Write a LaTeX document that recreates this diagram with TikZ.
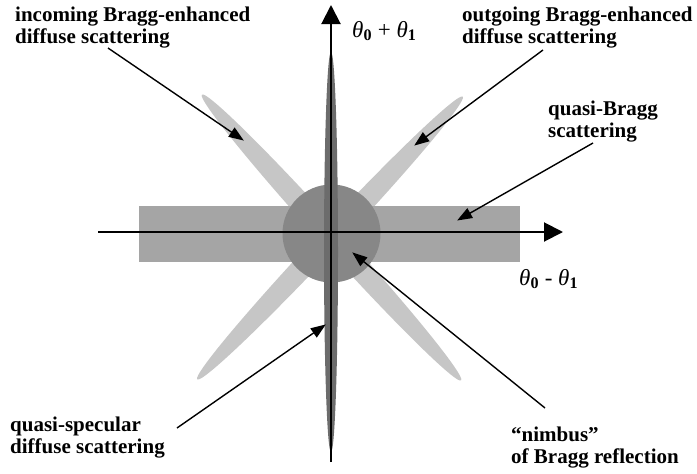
\documentclass[tikz,border=0pt]{standalone}
\usepackage{fontspec}
\setmainfont{Liberation Serif}
\usetikzlibrary{arrows.meta}
\definecolor{ellgray}{RGB}{198,198,198}
\definecolor{rectgray}{RGB}{165,165,165}
\definecolor{circgray}{RGB}{135,135,135}
\definecolor{spikegray}{RGB}{108,108,108}
\newcommand{\thsub}[1]{\textit{θ}\textsubscript{\upshape\bfseries #1}}
\begin{document}
\begin{tikzpicture}[x=1pt,y=-1pt,
  lbl/.style={font=\bfseries\fontsize{21}{21.5}\selectfont, align=left, inner sep=0pt, anchor=base west},
  axlbl/.style={font=\fontsize{23}{26}\selectfont, inner sep=0pt, anchor=base west},
  ptr/.style={line width=1.4pt, -{Triangle[length=15pt,width=11pt]}, shorten >=-1pt},
  axis/.style={line width=2pt, -{Triangle[length=19pt,width=19pt]}}]
\useasboundingbox (0,0) rectangle (697,474);
% diffuse streaks
\fill[ellgray, rotate around={46.8:(330,238)}] (330,238) ellipse [x radius=194pt, y radius=11pt];
\fill[ellgray, rotate around={-47.8:(331.5,237.5)}] (331.5,237.5) ellipse [x radius=193pt, y radius=11pt];
% quasi-Bragg band
\fill[rectgray] (139,206) rectangle (520,262);
% nimbus
\fill[circgray] (331.5,233.5) circle [radius=49pt];
% quasi-specular spike
\fill[spikegray] (331,252) ellipse [x radius=7pt, y radius=200pt];
% axes
\coordinate (vb) at (331,462);
\coordinate (vt) at (331,5);
\coordinate (hl) at (98,232);
\coordinate (hr) at (563,232);
\draw[axis] (vb) -- (vt);
\draw[axis] (hl) -- (hr);
% axis labels
\node[axlbl] (lp) at (352,37) {\thsub{0} + \thsub{1}};
\node[axlbl] (lm) at (519,285) {\thsub{0} - \thsub{1}};
% labels (anchor = baseline of last line)
\node[lbl] (inc) at (15,43) {incoming Bragg-enhanced\\diffuse scattering};
\node[lbl] (out) at (462,43) {outgoing Bragg-enhanced\\diffuse scattering};
\node[lbl] (qb) at (548,137) {quasi-Bragg\\scattering};
\node[lbl] (qs) at (10,453) {quasi-specular\\diffuse scattering};
\node[lbl] (nb) at (511,463) {“nimbus”\\of Bragg reflection};
% pointer ends
\coordinate (incS) at (108,48);
\coordinate (incE) at (243,140);
\coordinate (outS) at (543,50);
\coordinate (outE) at (415,145);
\coordinate (qbS) at (593,143);
\coordinate (qbE) at (458,220);
\coordinate (qsS) at (177,428);
\coordinate (qsE) at (325,325);
\coordinate (nbS) at (545,408);
\coordinate (nbE) at (353,253);
\draw[ptr] (incS) -- (incE);
\draw[ptr] (outS) -- (outE);
\draw[ptr] (qbS) -- (qbE);
\draw[ptr] (qsS) -- (qsE);
\draw[ptr] (nbS) -- (nbE);
\end{tikzpicture}
\end{document}
